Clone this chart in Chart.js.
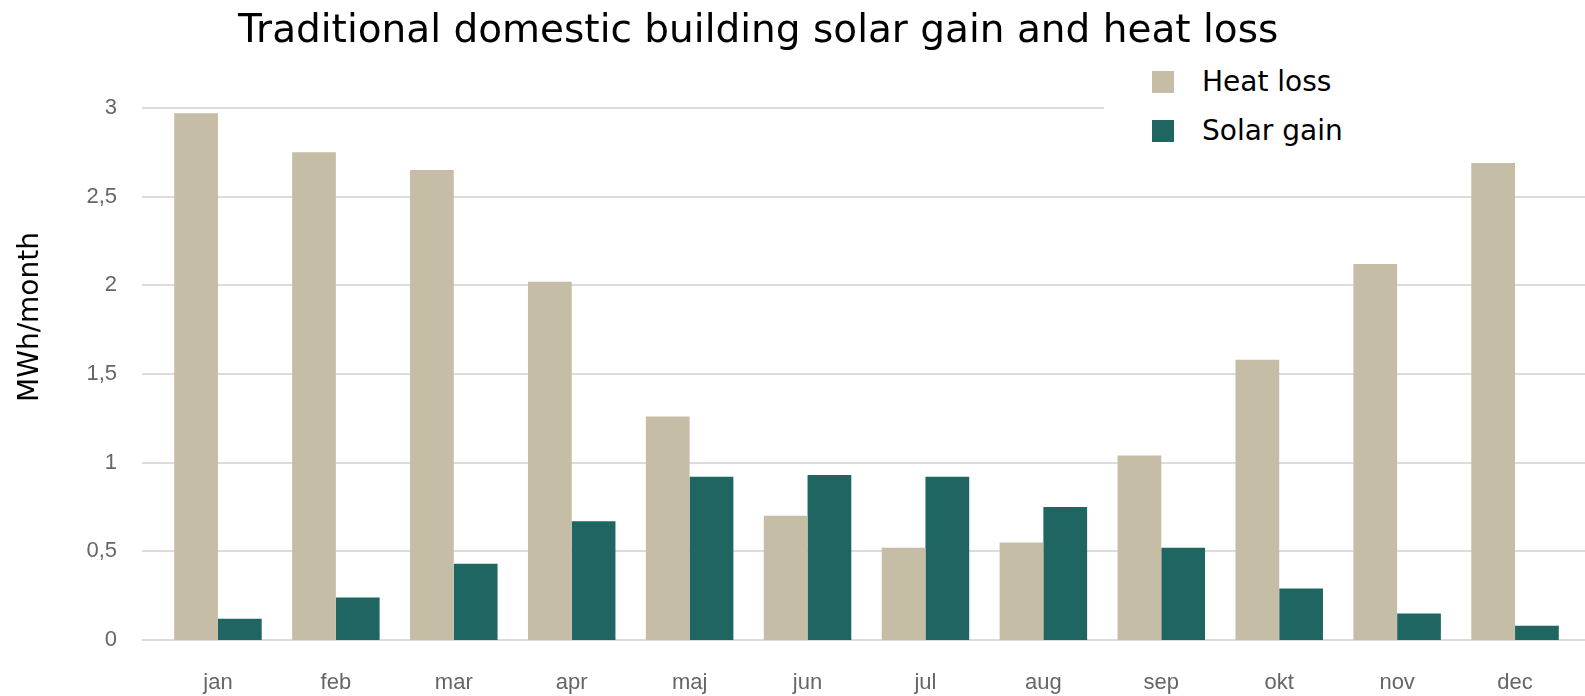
<!DOCTYPE html>
<html>
<head>
<meta charset="utf-8">
<script src="https://cdn.jsdelivr.net/npm/chart.js@4.4.1/dist/chart.umd.min.js"></script>
<style>
  html, body { margin: 0; padding: 0; background: #fff; }
  #wrap { position: relative; width: 1585px; height: 696px; overflow: hidden; }
  #title {
    position: absolute; left: 238px; top: 6px; white-space: nowrap;
    font-family: "DejaVu Sans", sans-serif; font-size: 39px; line-height: 46px; color: #000;
  }
  #ytitle {
    position: absolute; left: -121px; top: 300px; width: 300px; height: 34px;
    line-height: 34px; text-align: center; transform: rotate(-90deg);
    font-family: "DejaVu Sans", sans-serif; font-size: 28px; color: #000;
  }
  #legend {
    position: absolute; left: 1104px; top: 60px; width: 481px; height: 92px;
    background: #fff; font-family: "DejaVu Sans", sans-serif; font-size: 28px; color: #000;
  }
  .item { position: absolute; left: 48px; height: 30px; line-height: 30px; }
  .item span { position: absolute; left: 0; top: 4px; width: 22px; height: 22px; }
  .item b { font-weight: normal; position: absolute; left: 50px; white-space: nowrap; }
</style>
</head>
<body>
<div id="wrap">
  <canvas id="heatChart" width="1585" height="696"></canvas>
  <div id="title">Traditional domestic building solar gain and heat loss</div>
  <div id="ytitle">MWh/month</div>
  <div id="legend"></div>
</div>
<script>
  const months = ['jan', 'feb', 'mar', 'apr', 'maj', 'jun', 'jul', 'aug', 'sep', 'okt', 'nov', 'dec'];
  const heatLoss = [2.97, 2.75, 2.65, 2.02, 1.26, 0.70, 0.52, 0.55, 1.04, 1.58, 2.12, 2.69];
  const solarGain = [0.12, 0.24, 0.43, 0.67, 0.92, 0.93, 0.92, 0.75, 0.52, 0.29, 0.15, 0.08];
  const yTicks = [0, 0.5, 1, 1.5, 2, 2.5, 3];

  const beige = '#c5bda6';
  const teal = '#1f6663';

  // legend (top right, white box over the top grid line)
  const legend = document.getElementById('legend');
  [['Heat loss', beige], ['Solar gain', teal]].forEach(function (it, i) {
    const row = document.createElement('div');
    row.className = 'item';
    row.style.top = (7 + i * 49) + 'px';
    row.innerHTML = '<span style="background:' + it[1] + '"></span><b>' + it[0] + '</b>';
    legend.appendChild(row);
  });

  // grid lines run a bit wider than the bar area
  const wideGrid = {
    id: 'wideGrid',
    beforeDatasetsDraw(chart) {
      const ctx = chart.ctx;
      const y = chart.scales.y;
      ctx.save();
      ctx.strokeStyle = '#dcdcdc';
      ctx.lineWidth = 2;
      yTicks.forEach(function (v) {
        const py = Math.round(y.getPixelForValue(v));
        ctx.beginPath();
        ctx.moveTo(142, py);
        ctx.lineTo(chart.width, py);
        ctx.stroke();
      });
      ctx.restore();
    }
  };

  const ctx = document.getElementById('heatChart').getContext('2d');
  new Chart(ctx, {
    type: 'bar',
    data: {
      labels: months,
      datasets: [
        { label: 'Heat loss', data: heatLoss, backgroundColor: beige, barPercentage: 1, categoryPercentage: 0.742 },
        { label: 'Solar gain', data: solarGain, backgroundColor: teal, barPercentage: 1, categoryPercentage: 0.742 }
      ]
    },
    options: {
      responsive: false,
      animation: false,
      layout: { padding: { top: 108, right: 11, left: 0, bottom: 0 } },
      plugins: {
        legend: { display: false },
        title: { display: false },
        tooltip: { enabled: false }
      },
      scales: {
        x: {
          grid: { display: false, drawTicks: false },
          border: { display: false },
          ticks: { color: '#666', font: { family: 'Liberation Sans', size: 22 }, padding: 30 },
          afterFit(scale) { scale.height = 56; }
        },
        y: {
          min: 0, max: 3,
          afterBuildTicks(scale) { scale.ticks = yTicks.map(v => ({ value: v })); },
          grid: { display: false, drawTicks: false },
          border: { display: false },
          ticks: {
            color: '#666', font: { family: 'Liberation Sans', size: 22 }, padding: 42,
            callback: v => String(v).replace('.', ',')
          },
          afterFit(scale) { scale.width = 159; }
        }
      }
    },
    plugins: [wideGrid]
  });
</script>
</body>
</html>
